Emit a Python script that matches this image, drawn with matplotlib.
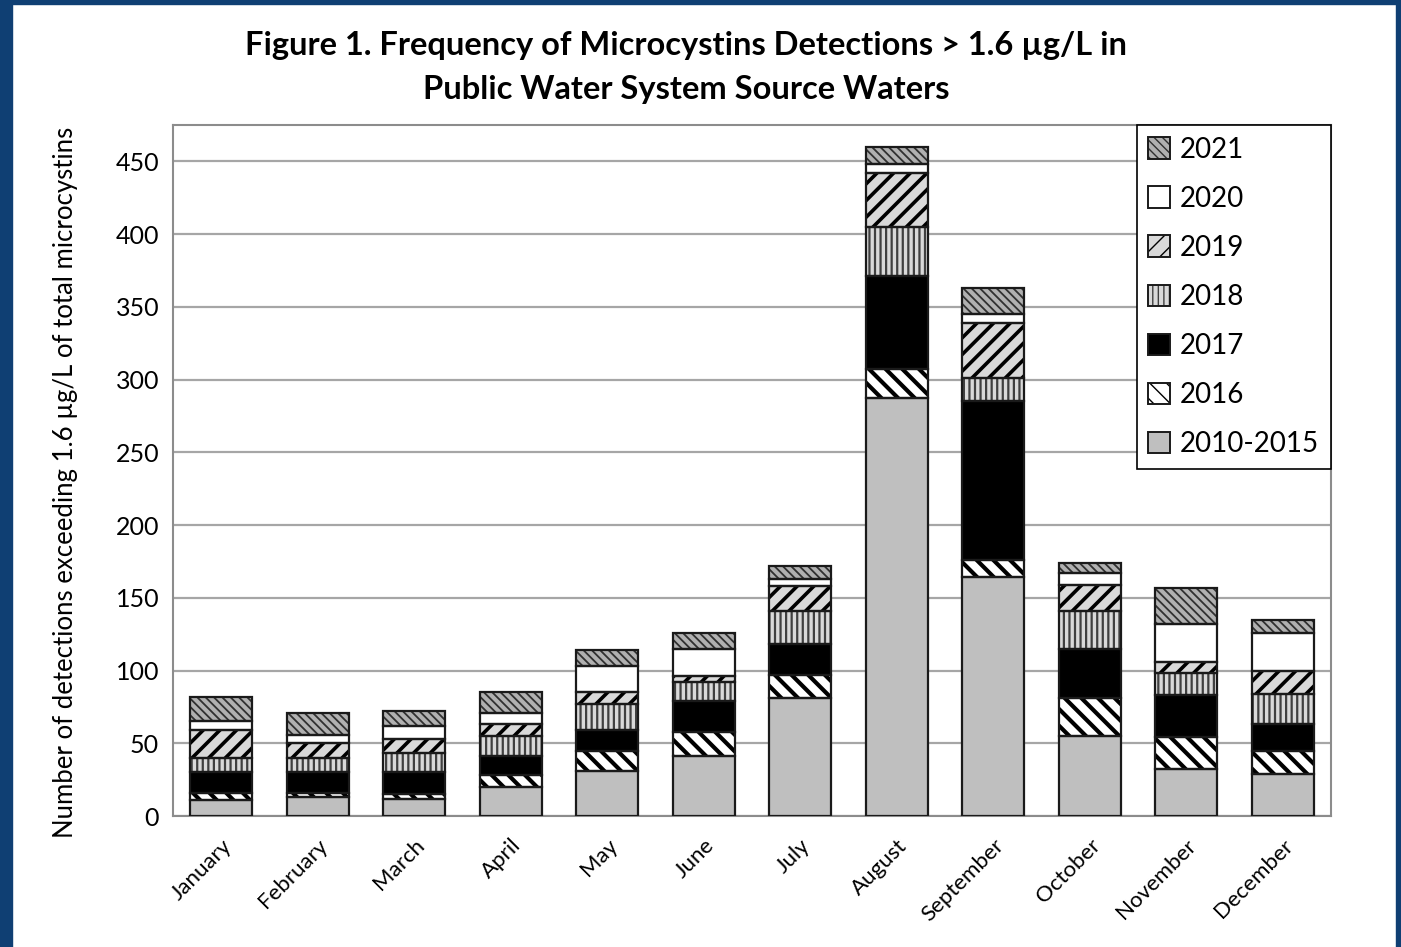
import numpy as np
import matplotlib
matplotlib.use('Agg')
import matplotlib.pyplot as plt
from matplotlib.patches import Rectangle, Patch

plt.rcParams['font.family'] = ['Lato', 'DejaVu Sans']

months = ['January', 'February', 'March', 'April', 'May', 'June', 'July',
          'August', 'September', 'October', 'November', 'December']
series_names = ['2010-2015', '2016', '2017', '2018', '2019', '2020', '2021']

# counts per month
v_2010_2015 = [11, 13, 12, 20, 31, 41, 81, 287, 164, 55, 32, 29]
v_2016 = [5, 3, 3, 8, 14, 17, 16, 20, 12, 26, 22, 16]
v_2017 = [14, 14, 15, 13, 14, 21, 21, 64, 109, 34, 29, 18]
v_2018 = [10, 10, 13, 14, 18, 13, 23, 34, 16, 26, 15, 21]
v_2019 = [19, 10, 10, 8, 8, 4, 17, 37, 38, 18, 8, 16]
v_2020 = [6, 6, 9, 8, 18, 19, 5, 6, 6, 8, 26, 26]
v_2021 = [17, 15, 10, 14, 11, 11, 9, 12, 18, 7, 25, 9]

series = [v_2010_2015, v_2016, v_2017, v_2018, v_2019, v_2020, v_2021]

# face colour, hatch, hatch colour, hatch linewidth
styles = [
    ('#bfbfbf', '', '#bfbfbf', 1.0),
    ('white', '\\\\', 'black', 3.0),
    ('black', '', 'black', 1.0),
    ('#d9d9d9', '|||', '#404040', 1.6),
    ('#d9d9d9', '//', 'black', 2.6),
    ('white', '', 'white', 1.0),
    ('#b0b0b0', '\\\\\\\\', '#303030', 1.3),
]

fig = plt.figure(figsize=(14.01, 9.47), dpi=100)
fig.patch.set_facecolor('white')

# dark blue frame of the slide
blue = '#0f3f73'
fig.patches.append(Rectangle((0, 0), 12 / 1401, 1, transform=fig.transFigure, color=blue, zorder=0))
fig.patches.append(Rectangle((0, 1 - 4 / 947), 1, 4 / 947, transform=fig.transFigure, color=blue, zorder=0))
fig.patches.append(Rectangle((1 - 5 / 1401, 0), 5 / 1401, 1, transform=fig.transFigure, color=blue, zorder=0))

ax = fig.add_axes([173 / 1401, 1 - 816 / 947, (1331 - 173) / 1401, (816 - 125) / 947])

x = np.arange(len(months))
width = 0.64
bottom = np.zeros(len(months))
handles = []
for name, vals, (fc, hatch, hc, hlw) in zip(series_names, series, styles):
    vals = np.array(vals, dtype=float)
    with plt.rc_context({'hatch.linewidth': hlw}):
        ax.bar(x, vals, width, bottom=bottom, color=fc, hatch=hatch,
               edgecolor=hc, linewidth=0, zorder=2)
        fill = Patch(facecolor=fc, hatch=hatch, edgecolor=hc, linewidth=0)
    outline = Patch(fill=False, edgecolor='#1a1a1a', linewidth=1.4)
    handles.append((fill, outline))
    ax.bar(x, vals, width, bottom=bottom, fill=False, edgecolor='#1a1a1a',
           linewidth=1.6, zorder=3)
    bottom += vals

ax.set_xlim(-0.5, len(months) - 0.5)
ax.set_ylim(0, 475)
ax.set_yticks(range(0, 451, 50))
ax.yaxis.grid(True, color='#a6a6a6', linewidth=1.6, zorder=0)
ax.set_axisbelow(True)
for s in ax.spines.values():
    s.set_color('#8c8c8c')
    s.set_linewidth(1.5)
ax.tick_params(axis='y', length=0, pad=10, labelsize=18)
ax.tick_params(axis='x', length=0, pad=14)
ax.set_xticks(x)
ax.set_xticklabels(months, rotation=45, ha='right', rotation_mode='anchor', fontsize=16)
ax.set_ylabel('Number of detections exceeding 1.6 µg/L of total microcystins',
              fontsize=18.5)
ax.yaxis.set_label_coords(-0.082, 0.483)

# legend with a black frame, latest year on top
leg = ax.legend(handles[::-1], series_names[::-1], loc='upper right', fontsize=20,
                frameon=True, fancybox=False, framealpha=1, edgecolor='black',
                borderaxespad=0, handlelength=0.8, handleheight=0.8,
                handletextpad=0.35, labelspacing=0.83, borderpad=0.42)
leg.get_frame().set_linewidth(1.2)
leg.set_zorder(5)

fig.text(686 / 1401, 1 - 45 / 947,
         'Figure 1. Frequency of Microcystins Detections > 1.6 µg/L in',
         ha='center', va='center', fontsize=23.5, fontweight='bold')
fig.text(686 / 1401, 1 - 89 / 947, 'Public Water System Source Waters',
         ha='center', va='center', fontsize=23.5, fontweight='bold')

fig.savefig('out.png', dpi=100, facecolor='white')
